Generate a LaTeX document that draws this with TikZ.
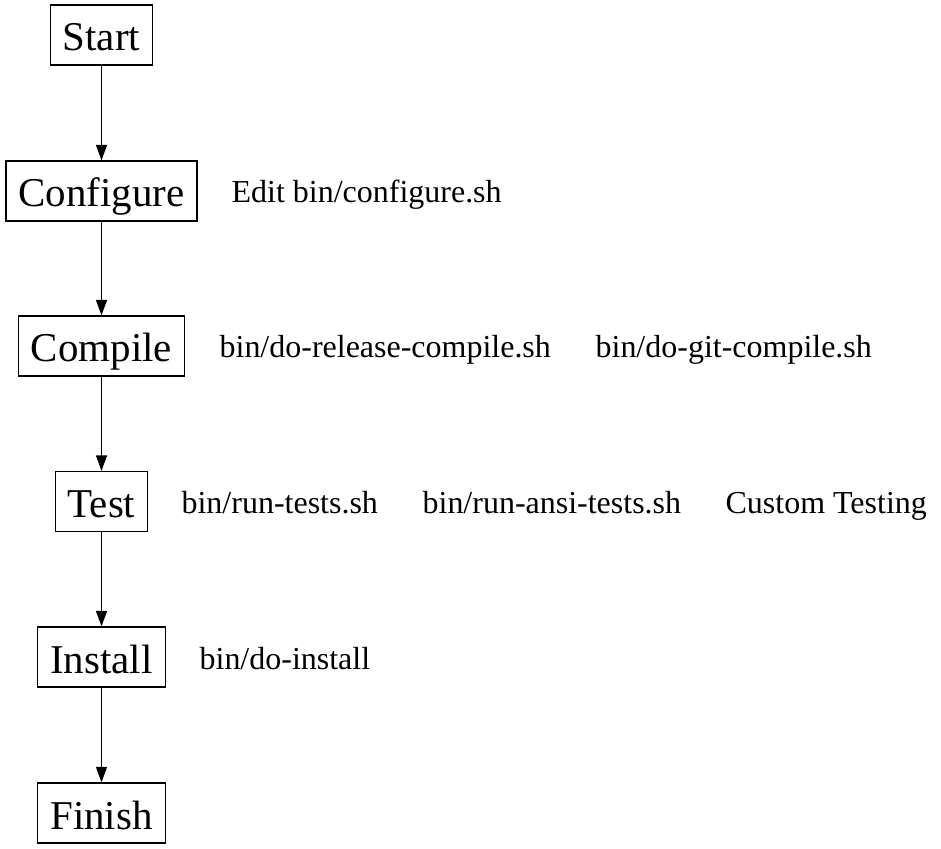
\documentclass[tikz,border=0pt]{standalone}
\usepackage{fontspec}
\setmainfont{Liberation Serif}
\usetikzlibrary{arrows.meta}

\begin{document}
\begin{tikzpicture}[>={Triangle[length=0.31cm, width=0.22cm]}, line width=0.7pt,
        stage/.style={draw, rectangle, inner xsep=0.25cm, inner ysep=0pt, minimum height=1.2cm, text height=0.64cm, text depth=0pt, font=\fontsize{23.3pt}{28pt}\selectfont},
        script/.style={anchor=west, inner sep=0pt, text height=0.48cm, text depth=0pt, font=\fontsize{18.2pt}{22pt}\selectfont}]
        \useasboundingbox (0,0) rectangle (18.82,-16.98);

        \draw (2.03,-0.70) node[stage] (start) {Start};
        \draw (2.03,-3.82) node[stage] (configure) {Configure};
        \draw (2.03,-6.92) node[stage] (compile) {Compile};
        \draw (2.03,-10.03) node[stage] (test) {Test};
        \draw (2.03,-13.14) node[stage] (install) {Install};
        \draw (2.03,-16.26) node[stage] (finish) {Finish};

        \draw (4.62,-3.82) node[script] (configuresh) {Edit bin/configure.sh};
        \draw (4.38,-6.92) node[script] (releasesh) {bin/do-release-compile.sh};
        \draw (11.90,-6.92) node[script] (gitsh) {bin/do-git-compile.sh};
        \draw (3.62,-10.03) node[script] (testssh) {bin/run-tests.sh};
        \draw (8.44,-10.03) node[script] (ansish) {bin/run-ansi-tests.sh};
        \draw (14.50,-10.03) node[script] (custom) {Custom Testing};
        \draw (3.98,-13.14) node[script] (installsh) {bin/do-install};

        \draw[->] (start) -- (configure);
        \draw[->] (configure) -- (compile);
        \draw[->] (compile) -- (test);
        \draw[->] (test) -- (install);
        \draw[->] (install) -- (finish);
    \end{tikzpicture}
\end{document}
